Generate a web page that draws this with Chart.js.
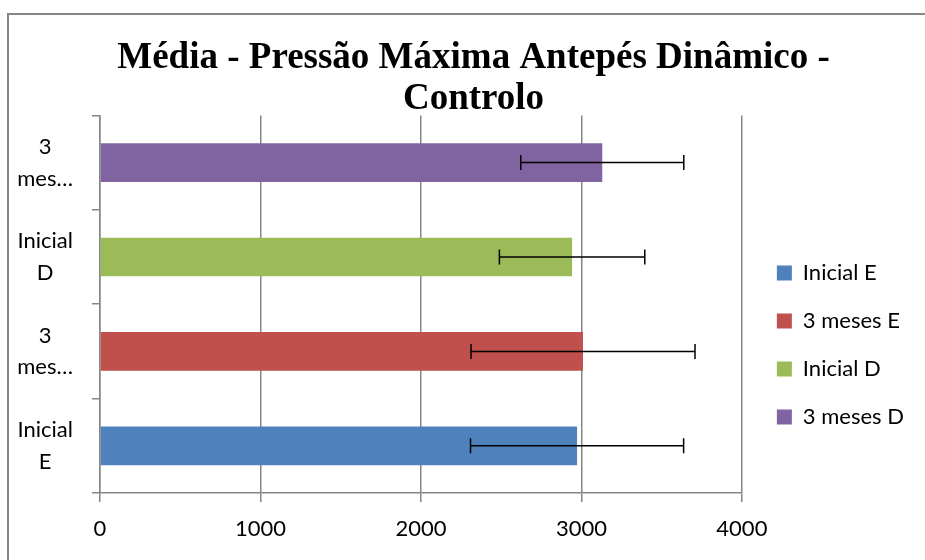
<!DOCTYPE html>
<html>
<head>
<meta charset="utf-8">
<script src="https://cdn.jsdelivr.net/npm/chart.js@4"></script>
<style>
  body { margin: 0; background: #fff; overflow: hidden; }
  #wrap { width: 925px; height: 560px; }
</style>
</head>
<body>
<div id="wrap"><canvas id="chart" width="925" height="560"></canvas></div>
<script>
// data
const categories = ['Inicial E', '3 meses E', 'Inicial D', '3 meses D'];
const tickLabels = [['Inicial', 'E'], ['3', 'mes…'], ['Inicial', 'D'], ['3', 'mes…']];
const means = [2973, 3010, 2942, 3130];
const errors = [664, 698, 453, 508];
const colors = ['#4F81BD', '#C0504D', '#9BBB59', '#8064A2'];
const xTicks = [0, 1000, 2000, 3000, 4000];

const gray = '#868686';
const sans = 'Lato';

// one dataset per category, only filled at its own row
const datasets = categories.map((name, i) => ({
    label: name,
    data: categories.map((c, j) => j === i ? means[i] : null),
    errors: categories.map((c, j) => j === i ? errors[i] : null),
    backgroundColor: colors[i],
    borderWidth: 0,
    grouped: false,
    barPercentage: 0.41,
    categoryPercentage: 1
}));

const errorBars = {
    id: 'errorBars',
    afterDatasetsDraw(chart) {
        const ctx = chart.ctx;
        const xs = chart.scales.x;
        ctx.save();
        ctx.strokeStyle = '#000';
        ctx.lineWidth = 1.5;
        chart.data.datasets.forEach((ds, d) => {
            const meta = chart.getDatasetMeta(d);
            ds.data.forEach((v, i) => {
                if (v == null) return;
                const y = meta.data[i].y;
                const lo = xs.getPixelForValue(v - ds.errors[i]);
                const hi = xs.getPixelForValue(v + ds.errors[i]);
                ctx.beginPath();
                ctx.moveTo(lo, y); ctx.lineTo(hi, y);
                ctx.moveTo(lo, y - 7.5); ctx.lineTo(lo, y + 7.5);
                ctx.moveTo(hi, y - 7.5); ctx.lineTo(hi, y + 7.5);
                ctx.stroke();
            });
        });
        ctx.restore();
    }
};

const frame = {
    id: 'frame',
    afterLayout(chart) {
        // nudge title and legend to where the original has them
        chart.titleBlock.left += 17; chart.titleBlock.right += 17;
        chart.legend.left += 9; chart.legend.right += 9;
        chart.legend.top += 58; chart.legend.bottom += 58;
    },
    beforeDraw(chart) {
        const ctx = chart.ctx;
        ctx.save();
        ctx.fillStyle = '#fff';
        ctx.fillRect(0, 0, chart.width, chart.height);
        ctx.strokeStyle = gray;
        ctx.lineWidth = 2;
        ctx.strokeRect(8, 14, 2000, 2000);
        ctx.restore();
    }
};

new Chart(document.getElementById('chart'), {
    type: 'bar',
    data: { labels: tickLabels, datasets: datasets },
    plugins: [errorBars, frame],
    options: {
        responsive: false,
        animation: false,
        indexAxis: 'y',
        layout: { padding: { left: 8, right: 20, top: 14, bottom: 0 } },
        plugins: {
            title: {
                display: true,
                text: ['Média - Pressão Máxima Antepés Dinâmico -', 'Controlo'],
                color: '#000',
                font: { family: 'Liberation Serif', size: 37, weight: 'bold', lineHeight: 1.1 },
                padding: { top: 24, bottom: -4 }
            },
            legend: {
                position: 'right',
                labels: {
                    color: '#000',
                    font: { family: sans, size: 22 },
                    boxWidth: 15,
                    boxHeight: 15,
                    padding: 26
                }
            },
            tooltip: { enabled: false }
        },
        scales: {
            x: {
                min: 0,
                max: 4000,
                afterBuildTicks(scale) { scale.ticks = xTicks.map(v => ({ value: v })); },
                afterFit(scale) { scale.height = 67; },
                grid: { color: gray, lineWidth: 1.5, tickLength: 9 },
                border: { color: gray, width: 1.5 },
                ticks: {
                    color: '#000',
                    font: { family: sans, size: 22 },
                    padding: 14,
                    callback: v => String(v)
                }
            },
            y: {
                reverse: true,
                afterFit(scale) { scale.width = 92; },
                grid: { drawOnChartArea: false, color: gray, lineWidth: 1.5, tickLength: 8 },
                border: { color: gray, width: 1.5 },
                ticks: {
                    color: '#000',
                    crossAlign: 'center',
                    padding: 19,
                    font: { family: sans, size: 22, lineHeight: 1.45 }
                }
            }
        }
    }
});
</script>
</body>
</html>
